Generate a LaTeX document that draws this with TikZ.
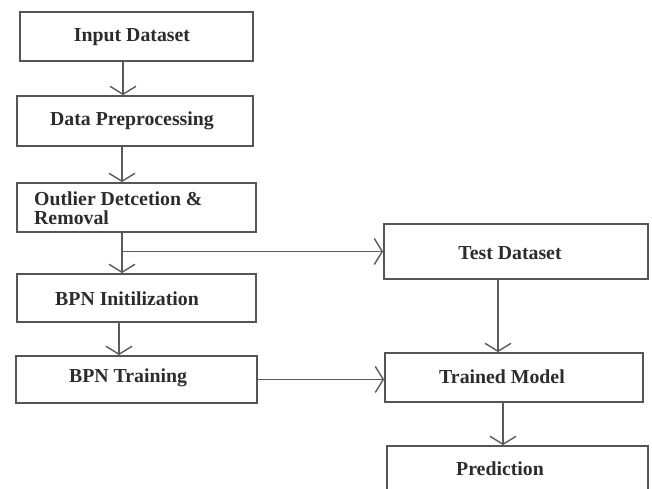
\documentclass[tikz,border=0pt]{standalone}
\usepackage{fontspec}
\setmainfont{Liberation Serif}
\usetikzlibrary{arrows.meta}
\definecolor{boxc}{HTML}{555555}
\definecolor{linec}{HTML}{5A5A5A}
\definecolor{txtc}{HTML}{2E2A30}
\tikzset{
  box/.style={draw=boxc, line width=1.8pt, rectangle, inner sep=0pt},
  lbl/.style={text=txtc, font=\fontsize{19.8}{22}\selectfont\bfseries, inner sep=0pt},
  arr/.style={draw=linec, line width=1.6pt, -{Straight Barb[length=8pt,width=26pt,line width=1.4pt]}},
  ln/.style={draw=linec, line width=1.6pt}
}
\begin{document}
\begin{tikzpicture}[x=1pt,y=-1pt]
\useasboundingbox (0,0) rectangle (652,489);
\clip (0,0) rectangle (652,489);
% boxes
\node[box, minimum width=233pt, minimum height=49pt] (in) at (136.5,36.5) {};
\node[box, minimum width=236pt, minimum height=50pt] (dp) at (135,121) {};
\node[box, minimum width=239pt, minimum height=49pt] (od) at (136.5,207.5) {};
\node[box, minimum width=239pt, minimum height=48pt] (bi) at (136.5,298) {};
\node[box, minimum width=241pt, minimum height=47pt] (bt) at (136.5,379.5) {};
\node[box, minimum width=264pt, minimum height=55pt] (td) at (516,251.5) {};
\node[box, minimum width=258pt, minimum height=49pt] (tm) at (514,377.5) {};
\node[box, minimum width=261pt, minimum height=60pt] (pr) at (517.5,476) {};
% labels
\node[lbl] (inl) at (132,37) {Input Dataset};
\node[lbl] (dpl) at (132,121) {Data Preprocessing};
\node[lbl, anchor=base west] (odl1) at (34,205) {Outlier Detcetion \&};
\node[lbl, anchor=base west] (odl2) at (34,224) {Removal};
\node[lbl] (bil) at (127,299) {BPN Initilization};
\node[lbl] (btl) at (128,378) {BPN Training};
\node[lbl] (tdl) at (510,253) {Test Dataset};
\node[lbl] (tml) at (502,377) {Trained Model};
\node[lbl] (prl) at (500,469) {Prediction};
% connectors
\draw[arr] (in.south -| 123,0) -- (dp.north -| 123,0);
\draw[arr] (dp.south -| 122,0) -- (od.north -| 122,0);
\draw[arr] (od.south -| 122,0) -- (bi.north -| 122,0);
\draw[arr] (td.west -| 122,0) -- (td.west);
\draw[arr] (bi.south -| 119,0) -- (bt.north -| 119,0);
\draw[arr] (bt.east) -- (tm.west |- bt.east);
\draw[arr] (td.south -| 498,0) -- (tm.north -| 498,0);
\draw[arr] (tm.south -| 503,0) -- (pr.north -| 503,0);
\end{tikzpicture}
\end{document}
